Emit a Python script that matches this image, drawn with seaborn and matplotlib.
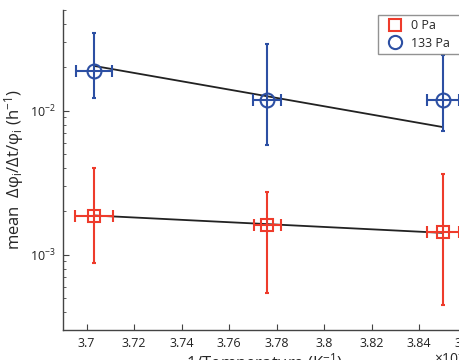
import matplotlib
matplotlib.use('Agg')
import matplotlib.pyplot as plt
from matplotlib.lines import Line2D
import pandas as pd
import seaborn as sns

# inverse temperature (x 1e-3 K^-1)
inv_temp = [3.703, 3.776, 3.850]
inv_temp_err_0pa = [0.0080, 0.0057, 0.0067]
inv_temp_err_133pa = [0.0075, 0.0060, 0.0066]

# mean growth rate (h^-1)
rate_0pa = [1.87e-3, 1.62e-3, 1.43e-3]
rate_0pa_lo = [8.8e-4, 5.4e-4, 4.5e-4]
rate_0pa_hi = [4.0e-3, 2.75e-3, 3.65e-3]

rate_133pa = [1.90e-2, 1.18e-2, 1.18e-2]
rate_133pa_lo = [1.23e-2, 5.8e-3, 7.2e-3]
rate_133pa_hi = [3.48e-2, 2.92e-2, 2.45e-2]

# fitted lines (end points)
fit_x = [3.703, 3.850]
fit_0pa = [1.875e-3, 1.42e-3]
fit_133pa = [2.05e-2, 7.7e-3]

red = '#ee3b2b'
blue = '#2c4fa3'

sns.set_style('ticks')
plt.rcParams['font.family'] = ['Open Sans', 'DejaVu Sans']
plt.rcParams['mathtext.fontset'] = 'custom'
plt.rcParams['mathtext.rm'] = 'Open Sans'
plt.rcParams['mathtext.it'] = 'Open Sans:italic'

fig = plt.figure(figsize=(4.59, 3.6), dpi=100)
ax = fig.add_axes([0.137, 0.083, 0.88, 0.889])

fits = pd.DataFrame({'x': fit_x * 2, 'y': fit_0pa + fit_133pa,
                     'series': ['0 Pa'] * 2 + ['133 Pa'] * 2})
sns.lineplot(data=fits, x='x', y='y', units='series', estimator=None,
             color='#222222', lw=1.3, ax=ax, legend=False)


def draw_series(y, lo, hi, xerr, color, marker, ms):
    yerr = [[v - l for v, l in zip(y, lo)], [h - v for v, h in zip(y, hi)]]
    ax.errorbar(inv_temp, y, yerr=yerr, fmt='none', ecolor=color, elinewidth=1.5,
                capsize=1.2, capthick=1.5, zorder=3)
    ax.errorbar(inv_temp, y, xerr=xerr, fmt='none', ecolor=color, elinewidth=1.5,
                capsize=4, capthick=1.5, zorder=3)
    ax.plot(inv_temp, y, ls='none', marker=marker, ms=ms, mfc='none', mec=color,
            mew=1.5, zorder=4)


draw_series(rate_0pa, rate_0pa_lo, rate_0pa_hi, inv_temp_err_0pa, red, 's', 8)
draw_series(rate_133pa, rate_133pa_lo, rate_133pa_hi, inv_temp_err_133pa, blue, 'o', 10)

ax.set_yscale('log')
ax.set_ylim(3e-4, 5e-2)
ax.set_xlim(3.69, 3.86)
ax.set_xticks([3.70, 3.72, 3.74, 3.76, 3.78, 3.80, 3.82, 3.84, 3.86])
ax.set_xticklabels(['3.7', '3.72', '3.74', '3.76', '3.78', '3.8', '3.82', '3.84', '3.86'])

for s in ['top', 'right']:
    ax.spines[s].set_visible(False)
for s in ['left', 'bottom']:
    ax.spines[s].set_color('#444444')
    ax.spines[s].set_linewidth(1.0)
ax.tick_params(which='both', direction='in', colors='#444444', labelcolor='#222222',
               labelsize=9)
ax.tick_params(which='major', length=4, pad=5)
ax.tick_params(which='minor', length=2)

ax.set_ylabel('mean  Δφ$_\\mathrm{i}$/Δt/φ$_\\mathrm{i}$ (h$^{-1}$)', fontsize=12, labelpad=3)
ax.set_xlabel(r'1/Temperature (K$^{-1}$)', fontsize=12, labelpad=1)
fig.text(0.945, 0.03, r'$\times10^{-3}$', fontsize=10, va='top', ha='left')

handles = [Line2D([], [], ls='none', marker='s', ms=8, mfc='none', mec=red, mew=1.5),
           Line2D([], [], ls='none', marker='o', ms=9.5, mfc='none', mec=blue, mew=1.5)]
leg = ax.legend(handles, ['0 Pa      ', '133 Pa      '], loc='upper left',
                bbox_to_anchor=(378 / 459, 1 - 15 / 360), bbox_transform=fig.transFigure,
                fontsize=9, frameon=True, fancybox=False, handlelength=2.0,
                handletextpad=0.3, borderpad=0.35, labelspacing=0.35, borderaxespad=0)
leg.get_frame().set_edgecolor('#777777')
leg.get_frame().set_linewidth(1.0)

fig.savefig('out.png', dpi=100)
